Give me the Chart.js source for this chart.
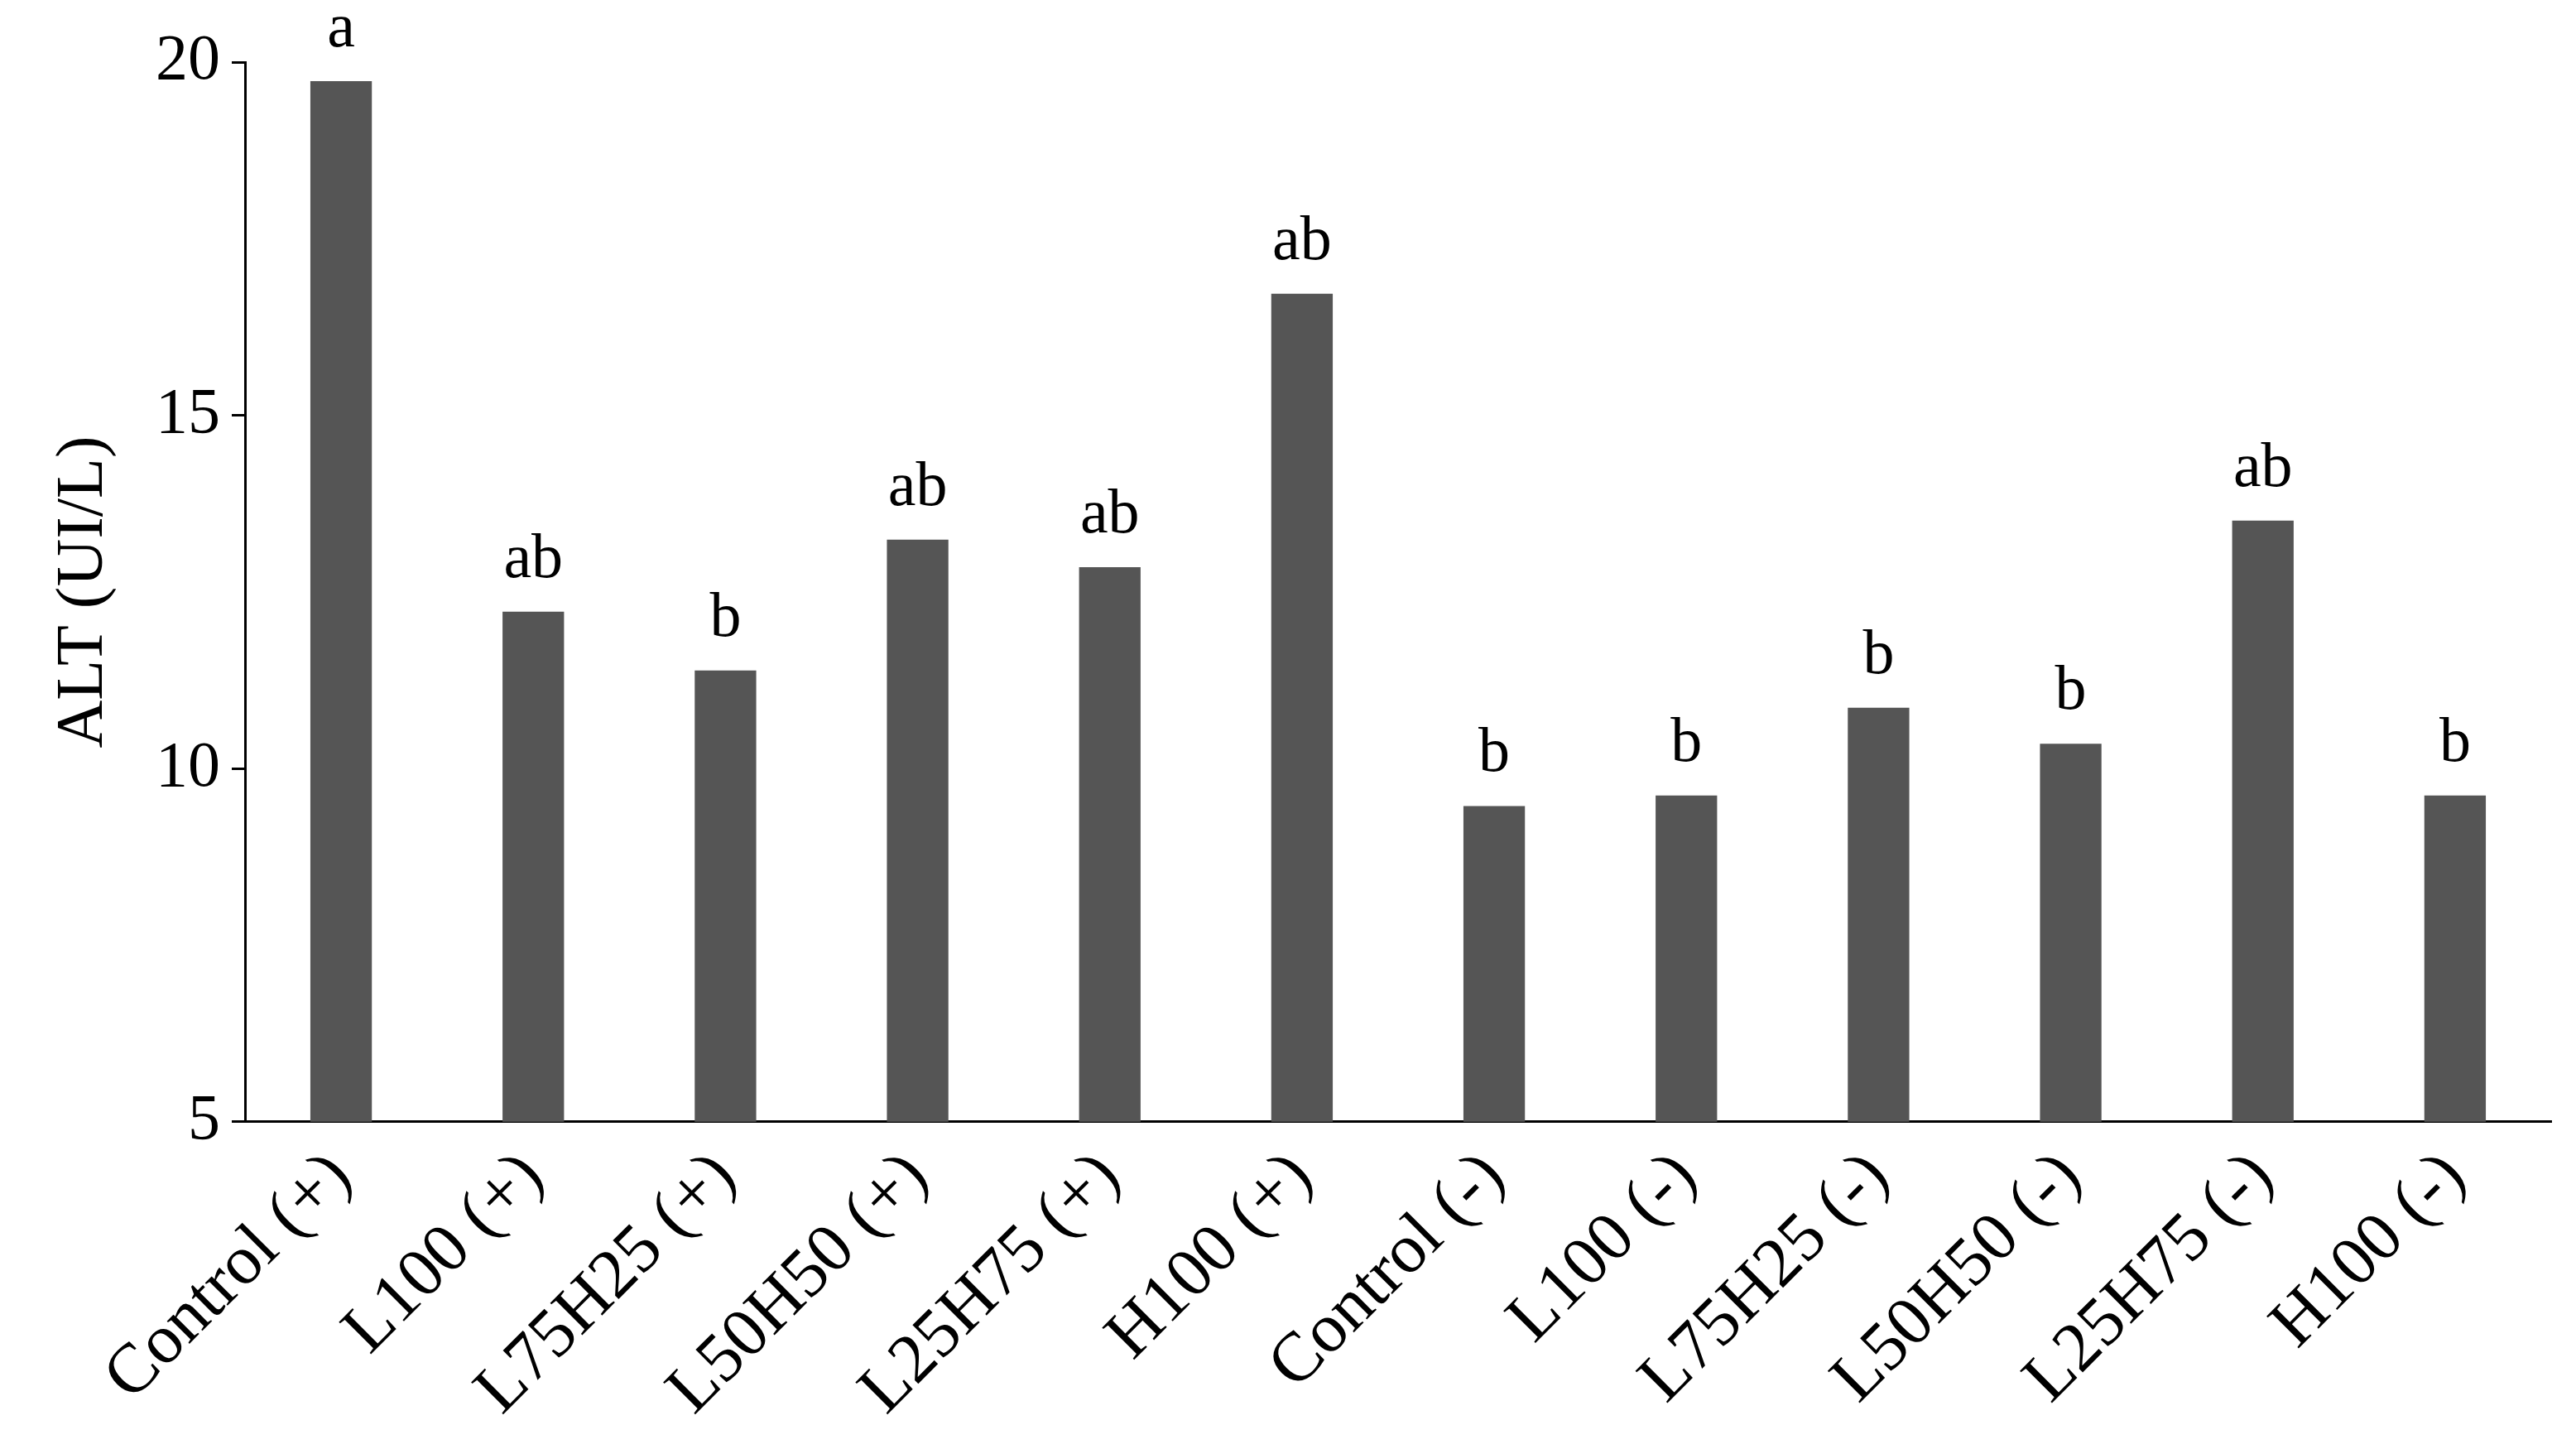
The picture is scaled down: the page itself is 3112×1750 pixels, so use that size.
<!DOCTYPE html>
<html><head><meta charset="utf-8">
<script src="https://cdn.jsdelivr.net/npm/chart.js@4"></script>
<style>html,body{margin:0;background:#fff}#w{width:3112px;height:1750px}</style>
</head><body><div id="w"><canvas id="c"></canvas></div>
<script>
const categories=["Control (+)","L100 (+)","L75H25 (+)","L50H50 (+)","L25H75 (+)","H100 (+)","Control (-)","L100 (-)","L75H25 (-)","L50H50 (-)","L25H75 (-)","H100 (-)"];
const altValues=[19.73,12.22,11.39,13.24,12.85,16.72,9.47,9.62,10.86,10.35,13.51,9.62];
const letters=["a","ab","b","ab","ab","ab","b","b","b","b","ab","b"];
const yTicks=[5,10,15,20];
const F="'Liberation Serif','DejaVu Serif',serif";
const lettersPlugin={id:'letters',afterDatasetsDraw(ch){const c=ch.ctx;const m=ch.getDatasetMeta(0);c.save();c.font="76px "+F;c.fillStyle="#000";c.textAlign="center";c.textBaseline="bottom";m.data.forEach((b,i)=>c.fillText(letters[i],b.x,b.y-24));c.restore();}};
new Chart(document.getElementById('c'),{type:'bar',
data:{labels:categories,datasets:[{data:altValues,backgroundColor:'#555555',borderWidth:0,categoryPercentage:1,barPercentage:0.32}]},
options:{responsive:true,maintainAspectRatio:false,animation:false,
layout:{padding:{top:75,right:30,left:50,bottom:10}},
plugins:{legend:{display:false},tooltip:{enabled:false}},
scales:{
y:{min:5,max:20,afterBuildTicks:a=>{a.ticks=yTicks.map(v=>({value:v}))},
border:{color:'#000',width:3},grid:{drawOnChartArea:false,color:'#000',lineWidth:3,tickLength:16},
ticks:{color:'#000',font:{family:F,size:78},padding:14},
title:{display:true,text:'ALT (UI/L)',color:'#000',font:{family:F,size:80},padding:{bottom:24}}},
x:{border:{color:'#000',width:3},grid:{display:false},
ticks:{color:'#000',font:{family:F,size:84},maxRotation:45,minRotation:45,padding:10}}}},
plugins:[lettersPlugin]});
</script></body></html>
